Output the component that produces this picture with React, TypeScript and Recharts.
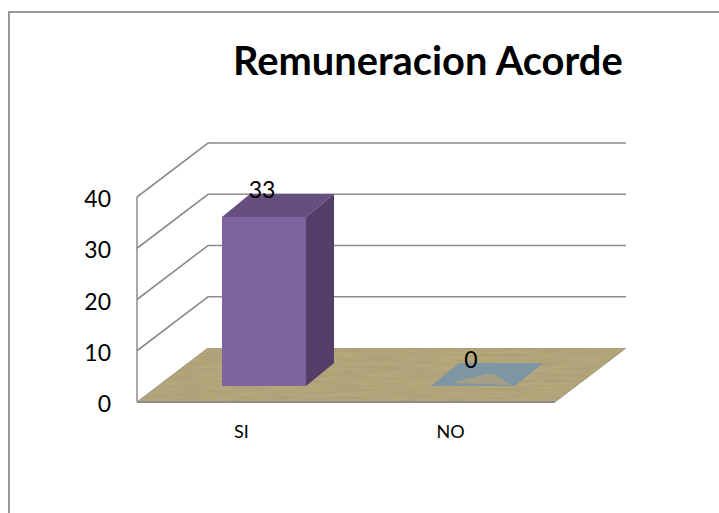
import { BarChart, Bar, XAxis, YAxis, CartesianGrid, LabelList } from "recharts";

const categories = ["SI", "NO"];
const values = [33, 0];
const yTicks = [0, 10, 20, 30, 40];
const title = "Remuneracion Acorde";

const data = categories.map((name, i) => ({ name, value: values[i] }));

const FONT = "Lato, Carlito, 'Open Sans', sans-serif";
const GRID = "#8c8c8c";

// fake 3D: how far the back wall sits from the front plane
const WALL_DX = 71;
const WALL_DY = -54;
// bars stand part way into the floor and have their own depth
const BAR_DX = 22;
const BAR_DY = -16;
const DEPTH_DX = 28;
const DEPTH_DY = -23;
const PLOT_RIGHT = 555;

function WallLine(props: any) {
  const { x1, y1, index } = props;
  const backY = y1 + WALL_DY;
  const backX = x1 + WALL_DX;
  const floorLine = y1 > 390;
  return (
    <g key={index}>
      {floorLine && (
        <polygon
          points={`${x1},${y1} ${backX},${backY} ${PLOT_RIGHT + WALL_DX},${backY} ${PLOT_RIGHT},${y1}`}
          fill="url(#wood)"
          filter="url(#woodGrain)"
          stroke="#a09a82"
          strokeWidth={1}
        />
      )}
      {!floorLine && (
        <polyline
          points={`${x1},${y1} ${backX},${backY} ${PLOT_RIGHT + WALL_DX},${backY}`}
          fill="none"
          stroke={GRID}
          strokeWidth={1.6}
        />
      )}
    </g>
  );
}

function Bar3D(props: any) {
  const { x, y, width, height, value } = props;
  const left = x + BAR_DX;
  const top = y + BAR_DY;
  const right = left + width;
  const bottom = top + height;
  const empty = !value;
  return (
    <g>
      <polygon
        points={`${left},${top} ${left + DEPTH_DX},${top + DEPTH_DY} ${right + DEPTH_DX},${top + DEPTH_DY} ${right},${top}`}
        fill={empty ? "#7e96a4" : "#654f7e"}
      />
      {empty && (
        <polygon
          points={`${left + 20},${top - 3} ${left + 55},${top - 12} ${left + 63},${top - 12} ${left + 80},${top - 1}`}
          fill="#a39e86"
        />
      )}
      {!empty && (
        <>
          <rect x={left} y={top} width={width} height={height} fill="#7e63a1" />
          <polygon
            points={`${right},${top} ${right + DEPTH_DX},${top + DEPTH_DY} ${right + DEPTH_DX},${bottom + DEPTH_DY} ${right},${bottom}`}
            fill="#533f68"
          />
        </>
      )}
    </g>
  );
}

function ValueLabel(props: any) {
  const { x, y, width, value } = props;
  return (
    <text
      x={x + width / 2 + 20}
      y={y - 43.5}
      textAnchor="middle"
      dominantBaseline="central"
      fontFamily={FONT}
      fontSize={23}
      fill="#000"
    >
      {value}
    </text>
  );
}

export default function App() {
  return (
    <div style={{ position: "absolute", left: 0, top: 0, width: 719, height: 513, overflow: "hidden", background: "#fff" }}>
      <div
        style={{
          position: "absolute",
          left: 233,
          top: 39,
          fontFamily: FONT,
          fontWeight: 700,
          fontSize: 39.8,
          lineHeight: "42px",
          color: "#000",
          whiteSpace: "nowrap",
        }}
      >
        {title}
      </div>
      <div
        style={{
          position: "absolute",
          left: 8,
          top: 11,
          width: 760,
          height: 600,
          border: "2px solid #999",
          boxSizing: "border-box",
        }}
      />
      <div style={{ position: "absolute", left: 0, top: 0 }}>
        <BarChart
          width={719}
          height={513}
          data={data}
          margin={{ top: 197, right: 164, bottom: 81, left: 97 }}
          barSize={84}
        >
          <defs>
            <pattern id="wood" width="8" height="8" patternUnits="userSpaceOnUse">
              <rect width="8" height="8" fill="#b6a77d" />
            </pattern>
            <filter id="woodGrain" x="0" y="0" width="100%" height="100%">
              <feTurbulence type="fractalNoise" baseFrequency="0.03 0.35" numOctaves="3" seed="4" result="noise" />
              <feColorMatrix
                in="noise"
                type="matrix"
                values="0 0 0 0 0.35  0 0 0 0 0.3  0 0 0 0 0.15  0.9 0 0 0 -0.28"
                result="grain"
              />
              <feComposite in="grain" in2="SourceGraphic" operator="in" result="clipped" />
              <feMerge>
                <feMergeNode in="SourceGraphic" />
                <feMergeNode in="clipped" />
              </feMerge>
            </filter>
          </defs>
          <CartesianGrid vertical={false} horizontal={(p: any) => <WallLine {...p} />} />
          <XAxis
            dataKey="name"
            height={30}
            tickLine={false}
            axisLine={{ stroke: GRID, strokeWidth: 2 }}
            tick={{ fill: "#000", fontSize: 18, fontFamily: FONT }}
            tickMargin={17}
            interval={0}
          />
          <YAxis
            width={40}
            domain={[0, 40]}
            ticks={yTicks}
            tickLine={false}
            axisLine={{ stroke: GRID, strokeWidth: 1.5 }}
            tick={{ fill: "#000", fontSize: 23, fontFamily: FONT, dy: 2 }}
            tickMargin={20}
          />
          <Bar dataKey="value" isAnimationActive={false} shape={(p: any) => <Bar3D {...p} />}>
            <LabelList dataKey="value" content={(p: any) => <ValueLabel {...p} />} />
          </Bar>
        </BarChart>
      </div>
    </div>
  );
}
